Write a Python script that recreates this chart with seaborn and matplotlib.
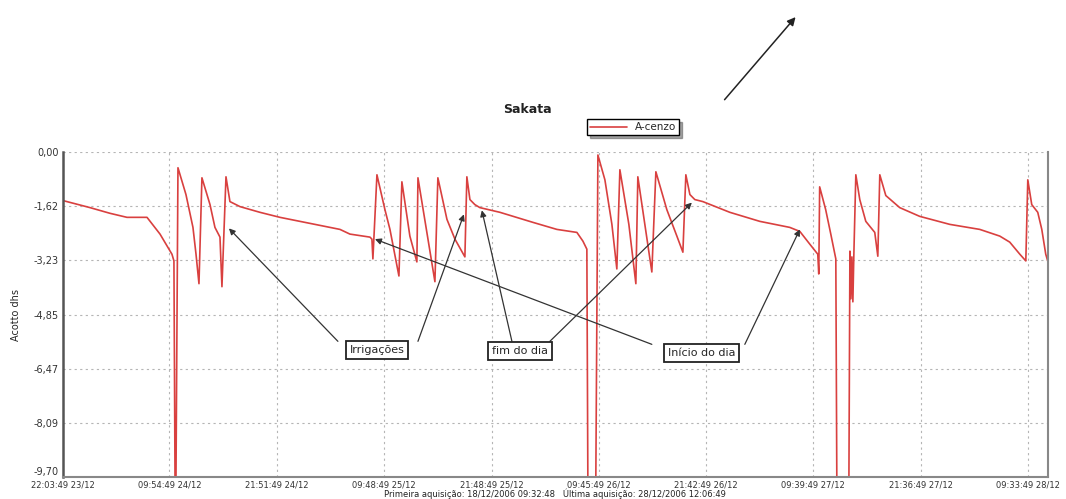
import seaborn as sns
import matplotlib.pyplot as plt
import pandas as pd

# hours since the first tick (23/12 22:03:49) and the reading
hours = [0.00, 3.01, 5.24, 7.13, 9.36, 10.81, 12.14, 12.36, 12.48, 12.59,
         12.81, 13.70, 14.48, 14.82, 15.15, 15.48, 16.38, 16.93, 17.49, 17.71,
         18.16, 18.60, 19.72, 21.94, 24.17, 26.40, 30.86, 31.97, 34.20, 34.42,
         34.53, 34.98, 35.87, 36.43, 37.43, 37.76, 38.65, 39.43, 39.55, 41.44,
         41.77, 42.78, 43.67, 44.78, 45.00, 45.34, 45.89, 46.45, 48.68, 52.36,
         55.03, 57.26, 57.93, 58.37, 58.48, 59.37, 59.60, 60.38, 61.16, 61.71,
         62.05, 63.05, 63.83, 64.05, 64.83, 65.61, 66.06, 67.28, 68.40, 69.07,
         69.40, 69.85, 70.40, 71.29, 74.30, 77.64, 80.98, 82.10, 83.21, 84.10,
         84.21, 84.31, 84.98, 85.55, 86.11, 86.22, 87.57, 87.68, 87.79, 87.90,
         88.01, 88.12, 88.34, 88.78, 89.45, 90.45, 90.79, 91.01, 91.68, 93.23,
         95.45, 98.81, 102.15, 104.38, 105.49, 106.61, 107.28, 107.50, 107.94, 108.61,
         109.06, 109.50, 109.72]
valores = [-1.45, -1.66, -1.83, -1.95, -1.95, -2.45, -3.05, -3.25, -9.70, -9.70,
           -0.47, -1.27, -2.25, -3.05, -3.93, -0.77, -1.57, -2.25, -2.54, -4.02,
           -0.74, -1.48, -1.63, -1.80, -1.95, -2.07, -2.31, -2.45, -2.54, -2.60,
           -3.19, -0.68, -1.72, -2.31, -3.70, -0.89, -2.51, -3.28, -0.77, -3.87,
           -0.77, -2.01, -2.60, -3.13, -0.74, -1.42, -1.57, -1.66, -1.80, -2.10,
           -2.31, -2.40, -2.66, -2.90, -9.70, -9.70, -0.09, -0.83, -2.16, -3.49,
           -0.53, -2.16, -3.93, -0.74, -2.16, -3.58, -0.59, -1.72, -2.51, -2.99,
           -0.68, -1.27, -1.42, -1.48, -1.80, -2.07, -2.25, -2.37, -2.75, -3.05,
           -3.64, -1.04, -1.72, -2.45, -3.19, -9.70, -9.70, -2.96, -4.38, -3.13,
           -4.47, -3.05, -0.68, -1.42, -2.07, -2.40, -3.11, -0.68, -1.30, -1.66,
           -1.92, -2.16, -2.31, -2.51, -2.69, -3.05, -3.25, -0.83, -1.57, -1.80,
           -2.31, -3.05, -3.25]

inicio = "2006-12-23 22:03:49"
x_ticks = ["2006-12-23 22:03:49", "2006-12-24 09:54:49", "2006-12-24 21:51:49",
           "2006-12-25 09:48:49", "2006-12-25 21:48:49", "2006-12-26 09:45:49",
           "2006-12-26 21:42:49", "2006-12-27 09:39:49", "2006-12-27 21:36:49",
           "2006-12-28 09:33:49"]
y_ticks = [0.00, -1.62, -3.23, -4.85, -6.47, -8.09, -9.70]

sns.set_style("white")
plt.rcParams['font.family'] = ['DejaVu Sans']

t0 = pd.Timestamp(inicio)
df = pd.DataFrame({"tempo": t0 + pd.to_timedelta(hours, unit="h"), "valor": valores})

fig = plt.figure(figsize=(10.66, 4.99), dpi=100)
ax = fig.add_axes([0.0591, 0.044, 0.924, 0.6514])

sns.lineplot(data=df, x="tempo", y="valor", ax=ax, color="#d9403f", lw=1.2,
             estimator=None, sort=False, label="A-cenzo")

ticks = pd.to_datetime(x_ticks)
ax.set_xticks(ticks)
ax.set_xticklabels([t.strftime("%H:%M:%S %d/%m") for t in ticks], fontsize=6, color="#333333")
ax.set_xlim(t0, t0 + pd.Timedelta(hours=109.75))
ax.set_yticks(y_ticks)
ax.set_yticklabels([("%.2f" % v).replace(".", ",") for v in y_ticks], fontsize=7, color="#333333")
ax.get_yticklabels()[-1].set_va("bottom")
ax.set_ylim(-9.70, 0.0)
ax.tick_params(axis="both", length=2, pad=1)
ax.tick_params(axis="x", pad=0.5)

ax.grid(True, linestyle=(0, (2, 3)), color="#b5b5b5", lw=0.8)
ax.spines["top"].set_visible(False)
ax.spines["left"].set_color("#555555")
ax.spines["left"].set_linewidth(1.8)
ax.spines["bottom"].set_color("#888888")
ax.spines["bottom"].set_linewidth(1.5)
ax.spines["right"].set_color("#888888")
ax.spines["right"].set_linewidth(1.5)

ax.set_ylabel("Acotto dhs", fontsize=7, labelpad=9)
ax.set_xlabel("")
fig.text(0.521, 0.0, "Primeira aquisição: 18/12/2006 09:32:48   Última aquisição: 28/12/2006 12:06:49",
         fontsize=6, ha="center", va="bottom", color="#222222")

fig.text(0.495, 0.78, "Sakata", fontsize=9, fontweight="bold", ha="center", va="center", color="#222222")
leg = ax.legend(loc="center", bbox_to_anchor=(0.594, 0.745), bbox_transform=fig.transFigure,
                fontsize=7.5, frameon=True, fancybox=False, shadow=True, handlelength=3.5,
                borderpad=0.3, edgecolor="black")

# annotation boxes with their arrows
seta = dict(arrowstyle="-|>", color="#333333", lw=0.9, mutation_scale=9, shrinkA=0, shrinkB=0)
caixa = dict(boxstyle="square,pad=0.35", fc="white", ec="#222222", lw=1.3)

def h(v):
    return t0 + pd.Timedelta(hours=v)

ax.text(h(34.98), -5.91, "Irrigações", fontsize=8, ha="center", va="center", bbox=caixa, zorder=5)
ax.annotate("", xy=(h(18.49), -2.28), xytext=(h(30.63), -5.65), arrowprops=seta)
ax.annotate("", xy=(h(44.67), -1.86), xytext=(h(39.55), -5.65), arrowprops=seta)

ax.text(h(50.91), -5.94, "fim do dia", fontsize=8, ha="center", va="center", bbox=caixa, zorder=5)
ax.annotate("", xy=(h(46.67), -1.74), xytext=(h(50.02), -5.65), arrowprops=seta)
ax.annotate("", xy=(h(70.07), -1.51), xytext=(h(54.25), -5.65), arrowprops=seta)

ax.text(h(71.18), -6.00, "Início do dia", fontsize=8, ha="center", va="center", bbox=caixa, zorder=5)
ax.annotate("", xy=(h(34.76), -2.60), xytext=(h(65.61), -5.74), arrowprops=seta)
ax.annotate("", xy=(h(82.10), -2.31), xytext=(h(75.97), -5.74), arrowprops=seta)

# loose arrow at the top right
ax.annotate("", xy=(0.748, 0.97), xytext=(0.678, 0.796), xycoords="figure fraction",
            textcoords="figure fraction",
            arrowprops=dict(arrowstyle="-|>", color="#222222", lw=1.1, mutation_scale=12))

fig.savefig("out.png", dpi=100)
